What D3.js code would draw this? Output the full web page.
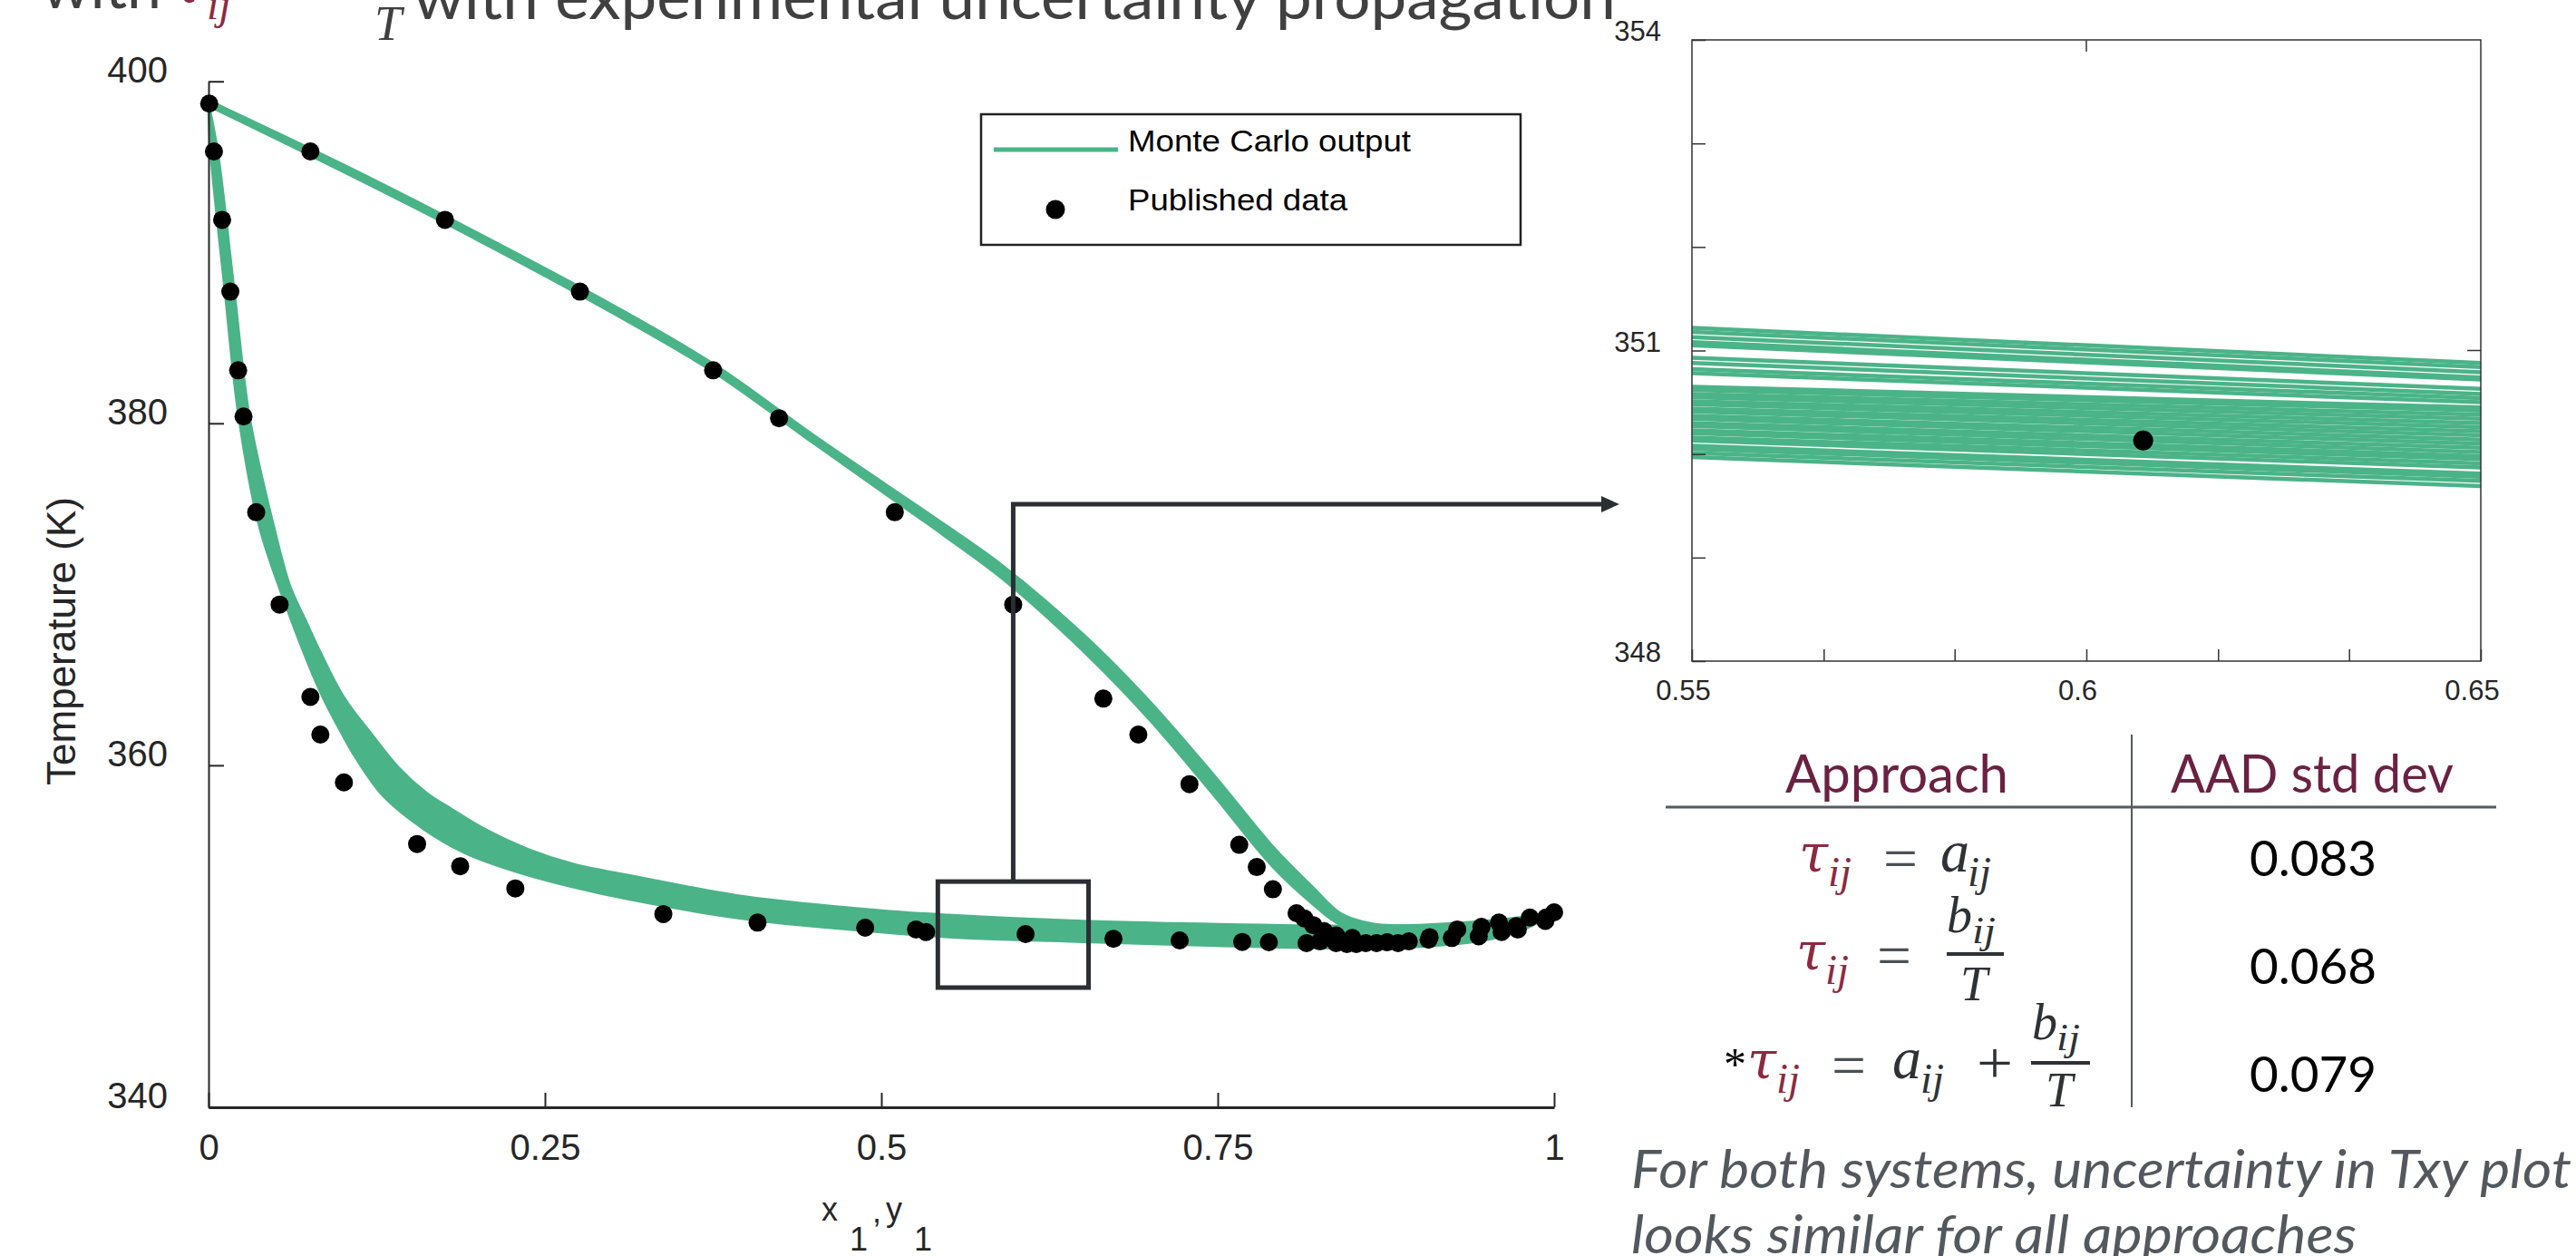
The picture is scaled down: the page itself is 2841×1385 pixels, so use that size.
<!DOCTYPE html>
<html>

<head>
  <meta charset="UTF-8" />
  <title>Txy with Monte Carlo uncertainty</title>
  <style>
    html,
    body {
      margin: 0;
      padding: 0;
      background: #fff;
    }

    svg {
      display: block;
    }

    .axis text {
      font-family: "Liberation Sans", Arial, sans-serif;
      fill: #262626;
    }

    .slide {
      font-family: Lato, "Open Sans", sans-serif;
    }

    .math {
      font-family: "Liberation Serif", "DejaVu Serif", serif;
      font-style: italic;
    }
  </style>
  <script src="https://d3js.org/d3.v7.min.js"></script>
</head>

<body>
  <script>
    /* ---- data ---- */

    // Monte Carlo envelope of the bubble curve (outer = high T edge, inner = low T edge)
    const bubbleOuterX = [0, 0.0067, 0.0191, 0.0303, 0.0483, 0.0606, 0.0719, 0.0831, 0.1011, 0.1213, 0.1415, 0.1617, 0.1819, 0.2044, 0.238, 0.2718, 0.3167, 0.4, 0.5, 0.55, 0.65, 0.75, 0.85, 0.9, 0.95, 0.98, 1.0];
    const bubbleOuterT = [398.7, 395.9, 387.7, 380.4, 374.0, 370.45, 368.5, 366.6, 363.9, 361.8, 359.84, 358.4, 357.37, 356.3, 355.07, 354.2, 353.5, 352.3, 351.5, 351.24, 350.89, 350.7, 350.6, 350.65, 350.9, 351.15, 351.4];
    const bubbleInnerX = [0, 0.0016, 0.0123, 0.0225, 0.0377, 0.0573, 0.0831, 0.0988, 0.109, 0.13, 0.1595, 0.19, 0.228, 0.27, 0.3167, 0.4, 0.5, 0.55, 0.65, 0.75, 0.85, 0.9, 0.95, 0.98, 1.0];
    const bubbleInnerT = [398.7, 395.9, 387.7, 380.4, 374.0, 369.4, 364.3, 361.9, 360.5, 358.2, 356.3, 354.9, 353.8, 352.9, 352.1, 351.0, 350.25, 349.96, 349.68, 349.45, 349.3, 349.4, 349.8, 350.5, 351.4];

    // Monte Carlo envelope of the dew curve
    const dewX = [0, 0.1, 0.2, 0.3, 0.375, 0.45, 0.504, 0.547, 0.59, 0.651, 0.70, 0.748, 0.791, 0.821, 0.8415, 0.865, 0.89];
    const dewHiT = [398.85, 395.1, 391.1, 386.9, 383.45, 379.25, 376.35, 374.05, 371.65, 367.55, 363.65, 359.3, 355.2, 352.8, 351.3, 350.7, 350.6];
    const dewLoT = [398.6, 394.75, 390.75, 386.5, 383.05, 378.85, 375.85, 373.45, 370.95, 366.65, 362.65, 358.2, 354.1, 351.9, 350.7, 350.4, 350.4];

    // published data, liquid side (x1) and vapour side (y1)
    const liquidX = [0.0005, 0.004, 0.0101, 0.0162, 0.022, 0.026, 0.0354, 0.0528, 0.0757, 0.0831, 0.1006, 0.155, 0.187, 0.228, 0.338, 0.408, 0.488, 0.5258, 0.5333, 0.6072, 0.6725, 0.7217, 0.7682, 0.788, 0.816, 0.826, 0.838, 0.846, 0.853, 0.86, 0.868, 0.876, 0.884, 0.892, 0.9067, 0.924, 0.944, 0.961, 0.973, 0.9935, 1.0];
    const liquidT = [398.7, 395.9, 391.9, 387.7, 383.1, 380.4, 374.8, 369.4, 364.0, 361.8, 359.0, 355.4, 354.1, 352.8, 351.3, 350.8, 350.5, 350.4, 350.25, 350.13, 349.85, 349.76, 349.67, 349.65, 349.6, 349.7, 349.6, 349.55, 349.55, 349.6, 349.6, 349.65, 349.6, 349.7, 349.8, 349.9, 350.0, 350.25, 350.4, 350.9, 351.4];
    const vaporY = [0.0757, 0.1757, 0.276, 0.375, 0.424, 0.510, 0.598, 0.665, 0.691, 0.729, 0.766, 0.779, 0.791, 0.8086, 0.8143, 0.821, 0.829, 0.838, 0.85, 0.9075, 0.928, 0.946, 0.959, 0.972, 0.982, 0.994];
    const vaporT = [395.9, 391.9, 387.7, 383.1, 380.3, 374.8, 369.4, 363.9, 361.8, 358.9, 355.35, 354.05, 352.75, 351.35, 351.05, 350.65, 350.3, 350.05, 349.9, 349.95, 350.4, 350.55, 350.8, 350.6, 351.1, 351.1];

    // individual Monte Carlo lines seen in the zoom panel: T at x = 0.55 and at x = 0.65
    const insetLineX = [0.55, 0.65];
    const insetLeftT = [351.22, 351.18, 351.13, 351.08, 351.05, 350.93, 350.88, 350.82, 350.78, 350.65, 350.62, 350.58, 350.55, 350.51, 350.48, 350.44, 350.41, 350.37, 350.34, 350.30, 350.27, 350.23, 350.20, 350.16, 350.13, 350.08, 350.05, 350.01, 349.97];
    const insetRightT = [350.88, 350.84, 350.79, 350.74, 350.72, 350.63, 350.58, 350.54, 350.50, 350.45, 350.42, 350.38, 350.34, 350.30, 350.26, 350.22, 350.18, 350.14, 350.10, 350.06, 350.02, 349.98, 349.95, 349.91, 349.87, 349.81, 349.78, 349.74, 349.69];

    // ticks
    const xTicks = [0, 0.25, 0.5, 0.75, 1];
    const yTicks = [340, 360, 380, 400];
    const insetXTicks = [0.55, 0.5667, 0.5833, 0.6, 0.6167, 0.6333, 0.65];
    const insetXLabelled = [0.55, 0.6, 0.65];
    const insetYTicks = [348, 349, 350, 351, 352, 353, 354];
    const insetYLabelled = [348, 351, 354];

    // zoom rectangle on the main plot: x from, x to, T from, T to
    const zoomBox = [0.542, 0.654, 347.0, 353.2];

    // table
    const tableHeaders = ["Approach", "AAD std dev"];
    const aadValues = ["0.083", "0.068", "0.079"];

    const legendLabels = ["Monte Carlo output", "Published data"];

    /* ---- layout ---- */
    const width = 2841, height = 1385,
      green = "#4bb388",
      ink = "#262626",
      slideGrey = "#404040",
      maroon = "#6a2142",
      tauRed = "#8c2a40",
      mathDark = "#2e3236";

    const svg = d3.select("body")
      .append("svg")
      .attr("width", width)
      .attr("height", height);

    svg.append("rect").attr("width", width).attr("height", height).attr("fill", "#fff");

    /* ---- main Txy plot ---- */
    const x = d3.scaleLinear().domain([0, 1]).range([230, 1714]);
    const y = d3.scaleLinear().domain([340, 400]).range([1221, 89.7]);

    const curveLine = d3.line()
      .x(d => x(d[0]))
      .y(d => y(d[1]))
      .curve(d3.curveCatmullRom.alpha(0.5));

    function bandPath(upper, lower) {
      const a = curveLine(upper);
      const b = curveLine(lower.slice().reverse());
      return a + "L" + b.slice(1) + "Z";
    }

    const bands = svg.append("g").attr("id", "mc-bands");

    bands.append("path")
      .attr("d", bandPath(d3.zip(bubbleOuterX, bubbleOuterT), d3.zip(bubbleInnerX, bubbleInnerT)))
      .attr("fill", green)
      .attr("stroke", green)
      .attr("stroke-width", 3)
      .attr("stroke-linejoin", "round");

    bands.append("path")
      .attr("d", bandPath(d3.zip(dewX, dewHiT), d3.zip(dewX, dewLoT)))
      .attr("fill", green)
      .attr("stroke", green)
      .attr("stroke-width", 4)
      .attr("stroke-linejoin", "round");

    /* axes */
    const yAxis = svg.append("g")
      .attr("class", "axis")
      .attr("transform", `translate(${x(0)},0)`)
      .call(d3.axisLeft(y).tickValues(yTicks).tickFormat(d3.format("d"))
        .tickSizeInner(-17).tickSizeOuter(0).tickPadding(45));
    yAxis.attr("font-size", 40);
    yAxis.selectAll(".tick text").attr("y", -12);
    yAxis.selectAll("line, path").attr("stroke", ink).attr("stroke-width", 2);

    const xAxis = svg.append("g")
      .attr("class", "axis")
      .attr("transform", `translate(0,${y(340)})`)
      .call(d3.axisBottom(x).tickValues(xTicks).tickFormat(d => String(d))
        .tickSizeInner(-16).tickSizeOuter(0).tickPadding(30));
    xAxis.attr("font-size", 40);
    xAxis.selectAll("line").attr("stroke", ink).attr("stroke-width", 2);
    xAxis.select(".domain").attr("stroke", ink).attr("stroke-width", 3);

    /* axis titles */
    svg.append("text")
      .attr("transform", "translate(67,707) rotate(-90)")
      .attr("text-anchor", "middle")
      .attr("dominant-baseline", "central")
      .attr("font-family", "'Liberation Sans', Arial, sans-serif")
      .attr("font-size", 44)
      .attr("fill", ink)
      .attr("textLength", 318)
      .attr("lengthAdjust", "spacingAndGlyphs")
      .text("Temperature (K)");

    const xTitle = svg.append("text")
      .attr("font-family", "'Liberation Sans', Arial, sans-serif")
      .attr("font-size", 36)
      .attr("fill", ink);
    xTitle.append("tspan").attr("x", 906).attr("y", 1346).text("x");
    xTitle.append("tspan").attr("x", 937).attr("y", 1379).text("1");
    xTitle.append("tspan").attr("x", 962).attr("y", 1348).text(",");
    xTitle.append("tspan").attr("x", 977).attr("y", 1346).text("y");
    xTitle.append("tspan").attr("x", 1008).attr("y", 1379).text("1");

    /* published data */
    const pubData = d3.zip(liquidX, liquidT).concat(d3.zip(vaporY, vaporT));
    svg.append("g")
      .attr("id", "published")
      .selectAll("circle")
      .data(pubData)
      .enter()
      .append("circle")
      .attr("cx", d => x(d[0]))
      .attr("cy", d => y(d[1]))
      .attr("r", 10)
      .attr("fill", "#000");

    /* legend */
    const legend = svg.append("g").attr("id", "legend");
    legend.append("rect")
      .attr("x", 1082).attr("y", 126)
      .attr("width", 595).attr("height", 144)
      .attr("fill", "#fff")
      .attr("stroke", "#222")
      .attr("stroke-width", 2.5);
    legend.append("line")
      .attr("x1", 1096).attr("x2", 1233)
      .attr("y1", 165).attr("y2", 165)
      .attr("stroke", green).attr("stroke-width", 5);
    legend.append("circle")
      .attr("cx", 1164).attr("cy", 231).attr("r", 10.5).attr("fill", "#000");
    legend.selectAll(".legend-label")
      .data(legendLabels)
      .enter()
      .append("text")
      .attr("class", "legend-label")
      .attr("x", 1244)
      .attr("y", (d, i) => 167 + i * 65)
      .attr("font-family", "'Liberation Sans', Arial, sans-serif")
      .attr("font-size", 34)
      .attr("fill", "#000")
      .attr("textLength", (d, i) => i === 0 ? 312 : 242)
      .attr("lengthAdjust", "spacingAndGlyphs")
      .text(d => d);

    /* zoom rectangle and arrow */
    svg.append("rect")
      .attr("x", x(zoomBox[0]))
      .attr("y", y(zoomBox[3]))
      .attr("width", x(zoomBox[1]) - x(zoomBox[0]))
      .attr("height", y(zoomBox[2]) - y(zoomBox[3]))
      .attr("fill", "none")
      .attr("stroke", "#2b2e33")
      .attr("stroke-width", 5);

    const arrowX = x((zoomBox[0] + zoomBox[1]) / 2);
    svg.append("path")
      .attr("d", `M${arrowX},${y(zoomBox[3])} V556 H1768`)
      .attr("fill", "none")
      .attr("stroke", "#2b2e33")
      .attr("stroke-width", 5);
    svg.append("path")
      .attr("d", "M1766,547 L1786,556 L1766,565 Z")
      .attr("fill", "#2b2e33");

    /* ---- zoom panel ---- */
    const ix = d3.scaleLinear().domain([0.55, 0.65]).range([1866, 2736]);
    const iy = d3.scaleLinear().domain([348, 354]).range([729, 44]);

    svg.append("defs").append("clipPath").attr("id", "inset-clip")
      .append("rect")
      .attr("x", ix(0.55)).attr("y", iy(354))
      .attr("width", ix(0.65) - ix(0.55)).attr("height", iy(348) - iy(354));

    const inset = svg.append("g").attr("id", "inset");
    const insetLines = d3.zip(insetLeftT, insetRightT);
    inset.append("g")
      .attr("clip-path", "url(#inset-clip)")
      .selectAll("line")
      .data(insetLines)
      .enter()
      .append("line")
      .attr("x1", ix(insetLineX[0]))
      .attr("x2", ix(insetLineX[1]))
      .attr("y1", d => iy(d[0]))
      .attr("y2", d => iy(d[1]))
      .attr("stroke", green)
      .attr("stroke-width", 4.5);

    inset.append("g")
      .selectAll("circle")
      .data(d3.zip(liquidX, liquidT).filter(d => d[0] >= 0.55 && d[0] <= 0.65))
      .enter()
      .append("circle")
      .attr("cx", d => ix(d[0]))
      .attr("cy", d => iy(d[1]))
      .attr("r", 11)
      .attr("fill", "#000");

    inset.append("rect")
      .attr("x", ix(0.55)).attr("y", iy(354))
      .attr("width", ix(0.65) - ix(0.55)).attr("height", iy(348) - iy(354))
      .attr("fill", "none")
      .attr("stroke", "#333")
      .attr("stroke-width", 1.5);

    const iyAxis = inset.append("g")
      .attr("class", "axis")
      .attr("transform", `translate(${ix(0.55)},0)`)
      .call(d3.axisLeft(iy).tickValues(insetYTicks)
        .tickFormat(d => insetYLabelled.includes(d) ? d : "")
        .tickSizeInner(-15).tickSizeOuter(0).tickPadding(34));
    iyAxis.attr("font-size", 31);
    iyAxis.selectAll(".tick text").attr("y", -9);
    iyAxis.selectAll("line").attr("stroke", "#333").attr("stroke-width", 1.5);
    iyAxis.select(".domain").remove();

    const ixAxis = inset.append("g")
      .attr("class", "axis")
      .attr("transform", `translate(0,${iy(348)})`)
      .call(d3.axisBottom(ix).tickValues(insetXTicks)
        .tickFormat(d => insetXLabelled.includes(d) ? String(d) : "")
        .tickSizeInner(-13).tickSizeOuter(0).tickPadding(21));
    ixAxis.attr("font-size", 31);
    ixAxis.selectAll(".tick text").attr("x", -10);
    ixAxis.selectAll("line").attr("stroke", "#333").attr("stroke-width", 1.5);
    ixAxis.select(".domain").remove();

    // single ticks on the right and top edges
    inset.append("line")
      .attr("x1", ix(0.65)).attr("x2", ix(0.65) - 15)
      .attr("y1", iy(351)).attr("y2", iy(351))
      .attr("stroke", "#333").attr("stroke-width", 1.5);
    inset.append("line")
      .attr("x1", ix(0.6)).attr("x2", ix(0.6))
      .attr("y1", iy(354)).attr("y2", iy(354) + 13)
      .attr("stroke", "#333").attr("stroke-width", 1.5);

    /* ---- title (cut off at the top of the slide) ---- */
    const title = svg.append("g").attr("id", "title");
    title.append("text")
      .attr("class", "slide")
      .attr("x", 46).attr("y", 9)
      .attr("font-size", 68).attr("fill", slideGrey)
      .attr("textLength", 132).attr("lengthAdjust", "spacingAndGlyphs")
      .text("with");
    title.append("text")
      .attr("x", 190).attr("y", 3)
      .attr("font-family", "'DejaVu Serif', serif")
      .attr("font-style", "italic")
      .attr("font-size", 60).attr("fill", tauRed)
      .text("τ");
    title.append("text")
      .attr("class", "math")
      .attr("x", 228).attr("y", 21)
      .attr("font-size", 48).attr("fill", tauRed)
      .text("ij");
    title.append("text")
      .attr("x", 292).attr("y", 3)
      .attr("font-family", "'Liberation Serif', serif")
      .attr("font-size", 66).attr("fill", slideGrey)
      .text("=");
    title.append("text")
      .attr("class", "math")
      .attr("x", 410).attr("y", -22)
      .attr("font-size", 66).attr("fill", slideGrey)
      .text("b");
    title.append("text")
      .attr("class", "math")
      .attr("x", 413).attr("y", 44)
      .attr("font-size", 54).attr("fill", slideGrey)
      .text("T");
    title.append("text")
      .attr("class", "slide")
      .attr("x", 456).attr("y", 21)
      .attr("font-size", 68).attr("fill", slideGrey)
      .attr("textLength", 1326).attr("lengthAdjust", "spacingAndGlyphs")
      .text("with experimental uncertainty propagation");

    /* ---- table of approaches ---- */
    const table = svg.append("g").attr("id", "table");
    table.append("line")
      .attr("x1", 1837).attr("x2", 2753).attr("y1", 890).attr("y2", 890)
      .attr("stroke", "#555b61").attr("stroke-width", 3);
    table.append("line")
      .attr("x1", 2351).attr("x2", 2351).attr("y1", 810).attr("y2", 1221)
      .attr("stroke", "#555b61").attr("stroke-width", 2);

    table.selectAll(".hdr")
      .data(tableHeaders)
      .enter()
      .append("text")
      .attr("class", "slide hdr")
      .attr("x", (d, i) => i === 0 ? 1969 : 2394)
      .attr("y", 874)
      .attr("font-size", 58)
      .attr("fill", maroon)
      .attr("textLength", (d, i) => i === 0 ? 246 : 312)
      .attr("lengthAdjust", "spacingAndGlyphs")
      .text(d => d);

    table.selectAll(".aad")
      .data(aadValues)
      .enter()
      .append("text")
      .attr("class", "slide aad")
      .attr("x", 2481)
      .attr("y", (d, i) => [966, 1085, 1204][i])
      .attr("font-size", 54)
      .attr("fill", "#000")
      .attr("textLength", 140)
      .attr("lengthAdjust", "spacingAndGlyphs")
      .text(d => d);

    // formulas, one piece per glyph group
    function mathText(txt, px, py, size, color, italic, len, family) {
      const t = table.append("text")
        .attr("x", px).attr("y", py)
        .attr("font-family", family || "'Liberation Serif', 'DejaVu Serif', serif")
        .attr("font-style", italic ? "italic" : "normal")
        .attr("font-size", size)
        .attr("fill", color)
        .text(txt);
      if (len) t.attr("textLength", len).attr("lengthAdjust", "spacingAndGlyphs");
    }
    function fracBar(x1, x2, yy) {
      table.append("line")
        .attr("x1", x1).attr("x2", x2).attr("y1", yy).attr("y2", yy)
        .attr("stroke", mathDark).attr("stroke-width", 4);
    }
    const tauFont = "'DejaVu Serif', serif";

    // row 1: tau_ij = a_ij
    mathText("τ", 1984, 961, 58, tauRed, true, null, tauFont);
    mathText("ij", 2016, 977, 46, tauRed, true, 26);
    mathText("=", 2077, 969, 66, "#4a5056", false, 38);
    mathText("a", 2140, 961, 66, mathDark, true, 32);
    mathText("ij", 2170, 977, 46, mathDark, true, 26);

    // row 2: tau_ij = b_ij / T
    mathText("τ", 1981, 1069, 58, tauRed, true, null, tauFont);
    mathText("ij", 2013, 1085, 46, tauRed, true, 26);
    mathText("=", 2070, 1076, 66, "#4a5056", false, 38);
    mathText("b", 2147, 1028, 58, mathDark, true, 28);
    mathText("ij", 2175, 1040, 42, mathDark, true, 26);
    fracBar(2147, 2210, 1052);
    mathText("T", 2162, 1103, 54, mathDark, true);

    // row 3: *tau_ij = a_ij + b_ij / T
    mathText("*", 1901, 1190, 50, "#000", false);
    mathText("τ", 1927, 1189, 58, tauRed, true, null, tauFont);
    mathText("ij", 1959, 1205, 46, tauRed, true, 26);
    mathText("=", 2020, 1197, 66, "#4a5056", false, 38);
    mathText("a", 2087, 1189, 66, mathDark, true, 32);
    mathText("ij", 2118, 1205, 46, mathDark, true, 26);
    mathText("+", 2180, 1194, 66, mathDark, false, 40);
    mathText("b", 2241, 1146, 58, mathDark, true, 28);
    mathText("ij", 2268, 1158, 42, mathDark, true, 26);
    fracBar(2240, 2305, 1172);
    mathText("T", 2256, 1220, 54, mathDark, true);

    /* ---- note (cut off at the bottom) ---- */
    const note = ["For both systems, uncertainty in Txy plot", "looks similar for all approaches"];
    svg.selectAll(".note")
      .data(note)
      .enter()
      .append("text")
      .attr("class", "slide note")
      .attr("x", 1799)
      .attr("y", (d, i) => 1310 + i * 72)
      .attr("font-size", 58)
      .attr("font-style", "italic")
      .attr("fill", "#53585e")
      .attr("textLength", (d, i) => i === 0 ? 1037 : 800)
      .attr("lengthAdjust", "spacingAndGlyphs")
      .text(d => d);
  </script>
</body>

</html>
